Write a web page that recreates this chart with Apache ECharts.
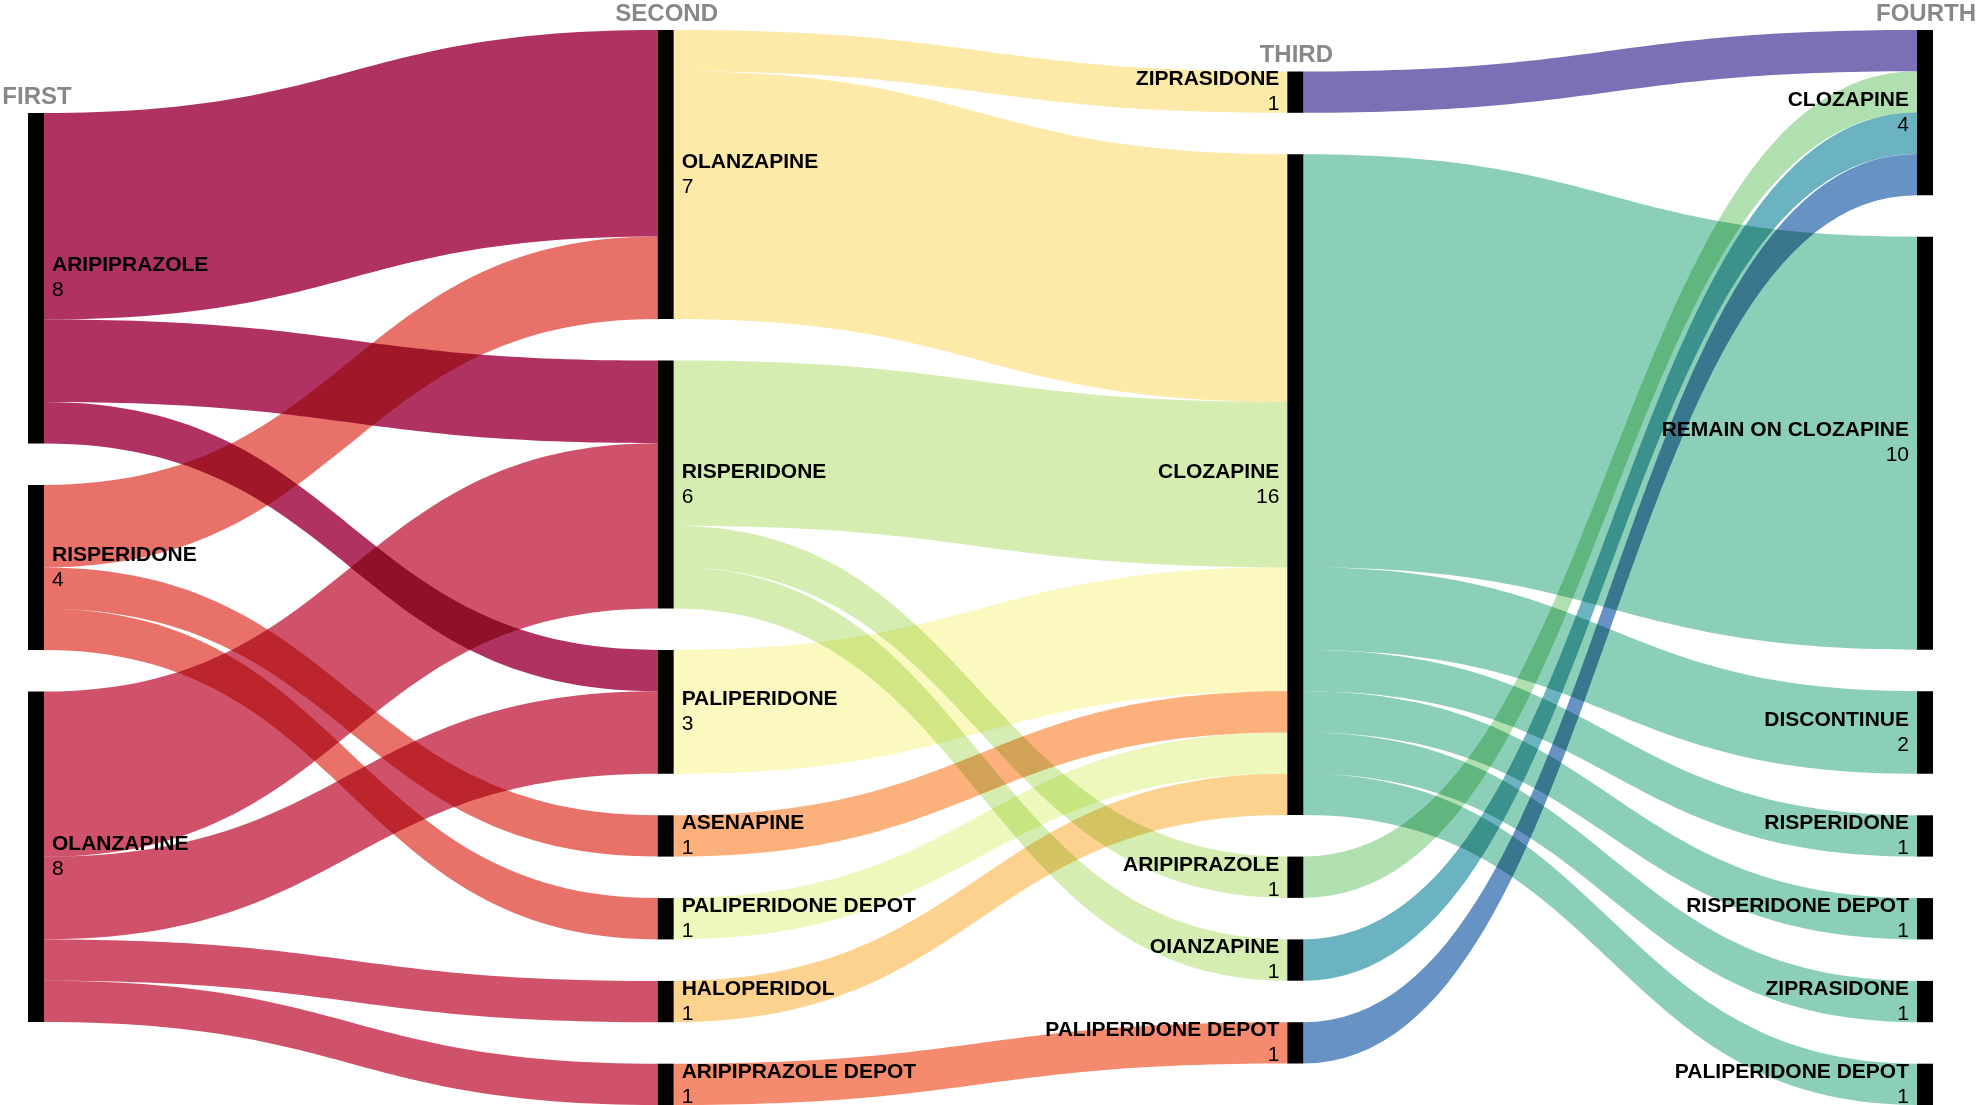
<!DOCTYPE html>
<html>
<head>
<meta charset="utf-8">
<script src="https://cdn.jsdelivr.net/npm/echarts@6/dist/echarts.min.js"></script>
<style>
html,body{margin:0;padding:0;background:#fff;}
#chart{width:1979px;height:1105px;}
</style>
</head>
<body>
<div id="chart"></div>
<script>
// ---- data ----
const columnTitles = ['FIRST', 'SECOND', 'THIRD', 'FOURTH'];

const firstNodes  = ['ARIPIPRAZOLE', 'RISPERIDONE', 'OLANZAPINE'];
const secondNodes = ['OLANZAPINE', 'RISPERIDONE', 'PALIPERIDONE', 'ASENAPINE', 'PALIPERIDONE DEPOT', 'HALOPERIDOL', 'ARIPIPRAZOLE DEPOT'];
const thirdNodes  = ['ZIPRASIDONE', 'CLOZAPINE', 'ARIPIPRAZOLE', 'OIANZAPINE', 'PALIPERIDONE DEPOT'];
const fourthNodes = ['CLOZAPINE', 'REMAIN ON CLOZAPINE', 'DISCONTINUE', 'RISPERIDONE', 'RISPERIDONE DEPOT', 'ZIPRASIDONE', 'PALIPERIDONE DEPOT'];

// [source index, target index, patients]
const links12 = [[0,0,5],[0,1,2],[0,2,1],[1,0,2],[1,3,1],[1,4,1],[2,1,4],[2,2,2],[2,5,1],[2,6,1]];
const links23 = [[0,0,1],[0,1,6],[1,1,4],[1,2,1],[1,3,1],[2,1,3],[3,1,1],[4,1,1],[5,1,1],[6,4,1]];
const links34 = [[0,0,1],[1,1,10],[1,2,2],[1,3,1],[1,4,1],[1,5,1],[1,6,1],[2,0,1],[3,0,1],[4,0,1]];

// flow colours, by source node
const firstColors  = ['#b03262', '#e8716a', '#cf526a'];
const secondColors = ['#fde9a8', '#d5edb0', '#fbf8c0', '#fcb07c', '#eef8bc', '#fdd28f', '#f58b6e'];
const thirdColors  = ['#7b6fb5', '#8ccfb9', '#b1e0b0', '#6bb3c0', '#6692c4'];

// ---- build ----
const W = 1979, H = 1105;
const LEFT = 28, RIGHT = 46, TOP = 30, BOTTOM = 0;
const NODE_GAP = 41.5;
const layoutH = H - TOP - BOTTOM;

const columns = [firstNodes, secondNodes, thirdNodes, fourthNodes];
const stageLinks = [links12, links23, links34];
const stageColors = [firstColors, secondColors, thirdColors];
const idOf = (c, i) => columns[c][i] + '#' + (c + 1);

// node values = max(inflow, outflow)
const inSum = columns.map(col => col.map(() => 0));
const outSum = columns.map(col => col.map(() => 0));
stageLinks.forEach((arr, s) => arr.forEach(([a, b, v]) => { outSum[s][a] += v; inSum[s + 1][b] += v; }));
const nodeValue = columns.map((col, c) => col.map((_, i) => Math.max(inSum[c][i], outSum[c][i])));

// same scale ECharts uses (densest column fills the height); each column centred vertically, input order kept
const ky = Math.min(...nodeValue.map(vals => (layoutH - (vals.length - 1) * NODE_GAP) / vals.reduce((p, q) => p + q, 0)));
const localYs = nodeValue.map(vals => {
  const total = vals.reduce((p, q) => p + q, 0) * ky + (vals.length - 1) * NODE_GAP;
  let y = (layoutH - total) / 2;
  return vals.map(v => { const r = y / layoutH; y += v * ky + NODE_GAP; return r; });
});

const nodes = [];
columns.forEach((col, c) => {
  col.forEach((n, i) => {
    nodes.push({
      name: idOf(c, i),
      localY: localYs[c][i],
      label: { position: c < 2 ? 'right' : 'left' }
    });
  });
});
const links = [];
stageLinks.forEach((arr, s) => {
  arr.forEach(([a, b, v]) => {
    links.push({
      source: idOf(s, a),
      target: idOf(s + 1, b),
      value: v,
      lineStyle: { color: stageColors[s][a] }
    });
  });
});

const FONT = '"Liberation Sans", Arial, Helvetica, sans-serif';
const chart = echarts.init(document.getElementById('chart'), null, { renderer: 'canvas' });
const option = {
  backgroundColor: '#ffffff',
  animation: false,
  series: [{
    type: 'sankey',
    left: LEFT, right: RIGHT, top: TOP, bottom: BOTTOM,
    nodeWidth: 16,
    nodeGap: NODE_GAP,
    layoutIterations: 0,
    draggable: false,
    emphasis: { disabled: true },
    data: nodes,
    links: links,
    itemStyle: { color: '#000000', borderWidth: 0 },
    lineStyle: { opacity: 1, curveness: 0.5 },
    label: {
      distance: 8,
      fontFamily: FONT,
      formatter: p => '{n|' + p.name.split('#')[0] + '}\n{v|' + p.value + '}',
      rich: {
        n: { fontFamily: FONT, fontSize: 21, fontWeight: 'bold', color: '#000', lineHeight: 25 },
        v: { fontFamily: FONT, fontSize: 21, fontWeight: 'normal', color: '#000', lineHeight: 25 }
      }
    }
  }]
};
chart.setOption(option);

// column titles above the top node of each column
function addTitles() {
  const series = chart.getModel().getSeriesByIndex(0);
  const graph = series.getGraph();
  const rect = series.layoutInfo || { x: LEFT, y: TOP, height: layoutH };
  const graphics = [];
  columns.forEach((col, c) => {
    let top = null;
    graph.eachNode(node => {
      const name = series.getData().getName(node.dataIndex);
      if (name.endsWith('#' + (c + 1))) {
        const l = node.getLayout();
        const ly = node.getModel().get('localY');
        const y = ly != null ? ly * rect.height : l.y;
        if (!top || y < top.y) top = { x: l.x, dx: l.dx, y: y };
      }
    });
    if (top) {
      graphics.push({
        type: 'text',
        x: rect.x + top.x + top.dx / 2 + 1,
        y: rect.y + top.y - 4,
        style: {
          text: columnTitles[c],
          fill: '#888888',
          font: 'bold 24px ' + FONT,
          textAlign: 'center',
          textVerticalAlign: 'bottom'
        },
        silent: true
      });
    }
  });
  chart.setOption({ graphic: graphics });
}
addTitles();

// multiply blending of flows (overlaps darken)
function blendLinks() {
  const zr = chart.getZr();
  const list = zr.storage.getDisplayList(true);
  list.forEach(el => {
    if (el.shape && el.shape.cpx1 !== undefined) {
      el.style.blend = 'multiply';
      el.markRedraw && el.markRedraw();
    }
  });
  zr.refresh();
}
blendLinks();
</script>
</body>
</html>
